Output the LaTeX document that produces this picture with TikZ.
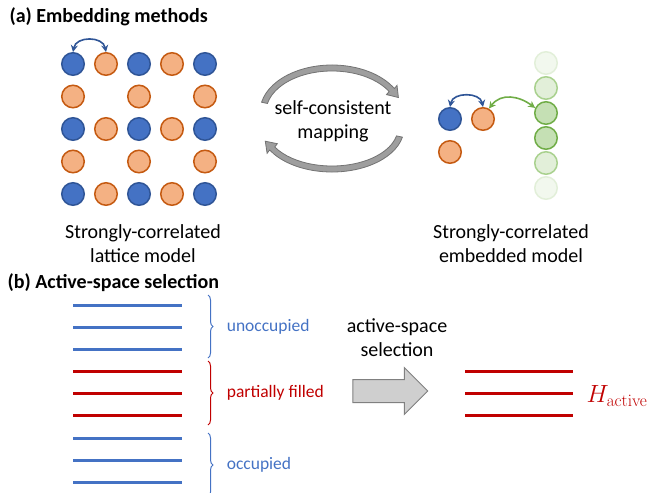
\documentclass[tikz,border=0pt]{standalone}
\usepackage[no-math]{fontspec}
\setmainfont{Carlito}
\usetikzlibrary{arrows.meta,positioning,shapes.arrows,decorations.pathreplacing}

\definecolor{siteblue}{HTML}{4472C4}
\definecolor{siteblueedge}{HTML}{2F5597}
\definecolor{siteorange}{HTML}{F4B183}
\definecolor{siteorangeedge}{HTML}{C55A11}
\definecolor{bathgreen}{HTML}{70AD47}
\definecolor{bathm}{HTML}{A9D18E}
\definecolor{bathl}{HTML}{C5E0B4}
\definecolor{bathxl}{HTML}{E2EFD9}
\definecolor{bathxxl}{HTML}{F2F8EE}
\definecolor{levelred}{HTML}{C00000}

\begin{document}
\begin{tikzpicture}[x=1pt, y=-1pt,
  font=\fontsize{20}{24}\selectfont,
  site/.style={circle, minimum size=22.5pt, inner sep=0pt, line width=1.5pt},
  bsite/.style={site, draw=siteblueedge, fill=siteblue},
  osite/.style={site, draw=siteorangeedge, fill=siteorange},
  hop/.style={{Stealth[length=7pt,width=7pt]}-{Stealth[length=7pt,width=7pt]},
              line width=1.6pt},
  level/.style={line width=3pt},
  brc/.style={decorate, decoration={brace, amplitude=5pt}, line width=1pt},
  lbl/.style={font=\fontsize{17.5}{21}\selectfont},
  cyc/.style={fill=black!38, draw=black!55, line width=0.8pt},
  title/.style={font=\fontsize{20}{24}\selectfont\bfseries, anchor=west},
  bigarrow/.style={single arrow, draw=black!50, fill=black!19, line width=1pt,
                   inner xsep=0pt, inner ysep=11pt, minimum height=75pt,
                   single arrow head extend=12pt}]
\useasboundingbox (0,0) rectangle (657,493);
\clip (0,0) rectangle (657,493);
% ---- (a) lattice ----
\node[title] (ta) at (6,17) {(a) Embedding methods};
\foreach \r/\y in {0/64,2/129,4/194} {
  \foreach \c/\x in {0/73,2/139,4/205} \node[bsite] (s\r\c) at (\x,\y) {};
  \foreach \c/\x in {1/106,3/172} \node[osite] (s\r\c) at (\x,\y) {};
}
\foreach \r/\y in {1/96.5,3/161.5}
  \foreach \c/\x in {0/73,2/139,4/205} \node[osite] (s\r\c) at (\x,\y) {};
\draw[hop, siteblueedge] (s00.north) .. controls +(3,-16) and +(-3,-16) .. (s01.north);
\node[align=center] (lattice) at (143,244) {Strongly-correlated\\lattice model};
% ---- self-consistent loop ----
\node[align=center] (scm) at (333,121) {self-consistent\\mapping};
\filldraw[cyc] (332,112) ++(192:72 and 47)
  arc[start angle=192, end angle=330, x radius=72, y radius=47]
  -- (397,85.4) -- (398.4,97.5) -- (386.5,94.6) -- (389.16,91.5)
  arc[start angle=330, end angle=192, x radius=66, y radius=41] -- cycle;
\filldraw[cyc] (332,128) ++(12:72 and 44)
  arc[start angle=12, end angle=150, x radius=72, y radius=44]
  -- (267.1,153.3) -- (265.3,141.2) -- (277.3,143.7) -- (274.8,147)
  arc[start angle=150, end angle=12, x radius=66, y radius=38] -- cycle;
% ---- embedded model ----
\node[bsite] (imp1) at (450,119) {};
\node[osite] (imp2) at (483,119) {};
\node[osite] (imp3) at (450,152) {};
\foreach \i/\y/\ed/\fl in {1/63/bathxl/bathxxl, 2/88/bathm/bathxl,
    3/113/bathgreen/bathl, 4/138/bathgreen/bathl,
    5/163/bathm/bathxl, 6/188/bathxl/bathxxl}
  \node[site, draw=\ed, fill=\fl] (bath\i) at (546,\y) {};
\draw[hop, siteblueedge] (imp1.north) .. controls +(3,-15) and +(-3,-15) .. (imp2.north);
\draw[hop, bathgreen] (imp2.60) .. controls +(12,-16) and +(-16,-12) .. (bath3.155);
\node[align=center] (embedded) at (511,244) {Strongly-correlated\\embedded model};
% ---- (b) orbital levels ----
\node[title] (tb) at (4,283) {(b) Active-space selection};
\foreach \y in {305,327,349,438,460,482}
  \draw[level, siteblue] (73,\y) -- (182,\y);
\foreach \y in {371,393,415}
  \draw[level, levelred] (73,\y) -- (182,\y);
\draw[brc, siteblue] (208,295) -- node[lbl, right=15pt] (unocc) {unoccupied} (208,358);
\draw[brc, levelred] (208,361) -- node[lbl, right=15pt] (partial) {partially filled} (208,425);
\draw[brc, siteblue] (208,433) -- node[lbl, right=15pt] (occ) {occupied} (208,497);
% ---- selection arrow and active space ----
\node[bigarrow] (pick) at (384.5,391) {};
\node[align=center] (picklbl) at (397,338) {active-space\\selection};
\foreach \y in {371,393,415}
  \draw[level, levelred] (465,\y) -- (573,\y);
\node[levelred, anchor=west, font=\fontsize{23}{27}\selectfont] (hact) at (583,396)
  {$H_{\mathrm{active}}$};
\end{tikzpicture}
\end{document}
